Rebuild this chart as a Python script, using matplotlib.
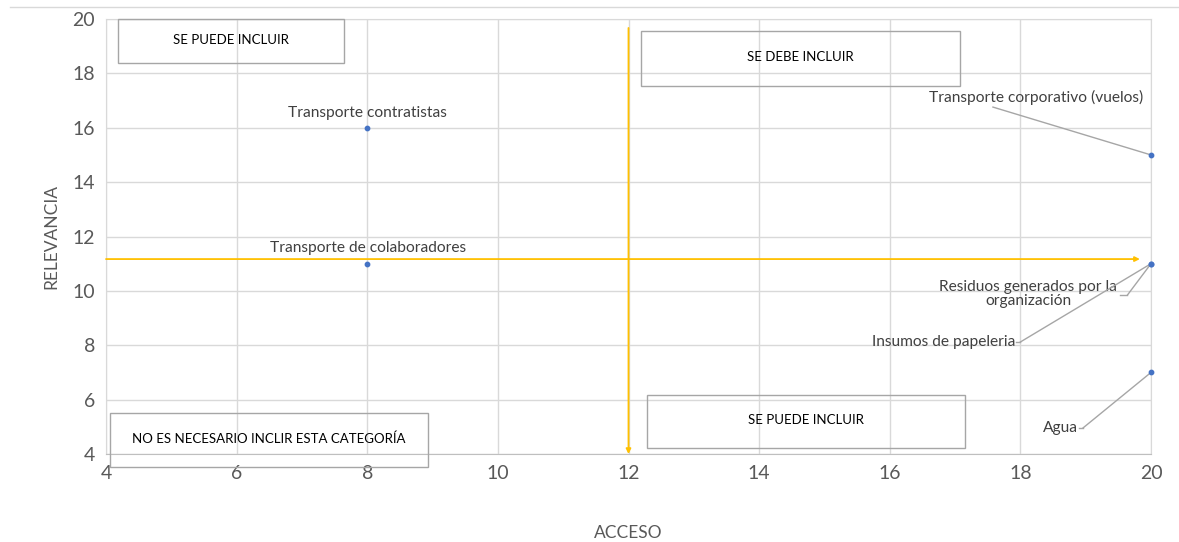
import matplotlib
matplotlib.use("Agg")
import matplotlib.pyplot as plt
from matplotlib.patches import Rectangle
from matplotlib.lines import Line2D

plt.rcParams['font.family'] = ['Lato', 'DejaVu Sans']

# Data
categories = ["Transporte contratistas", "Transporte de colaboradores",
              "Transporte corporativo (vuelos)", "Residuos generados por la\norganización",
              "Insumos de papeleria", "Agua"]
acceso = [8, 8, 20, 20, 20, 20]
relevancia = [16, 11, 15, 11, 11, 7]
x_ticks = [4, 6, 8, 10, 12, 14, 16, 18, 20]
y_ticks = [4, 6, 8, 10, 12, 14, 16, 18, 20]
quadrant_labels = ["SE PUEDE INCLUIR", "SE DEBE INCLUIR", "SE PUEDE INCLUIR",
                   "NO ES NECESARIO INCLIR ESTA CATEGORÍA"]
h_threshold = 11.17
v_threshold = 12

W, H = 1179, 542
fig = plt.figure(figsize=(W / 100, H / 100), dpi=100)
ax = fig.add_axes([106 / W, 1 - 454 / H, (1151 - 106) / W, (454 - 19) / H])

grid_c = "#D9D9D9"
ax.set_xlim(4, 20)
ax.set_ylim(4, 20)
ax.set_xticks(x_ticks)
ax.set_yticks(y_ticks)
ax.grid(True, color=grid_c, linewidth=1)
ax.set_axisbelow(True)
for s in ax.spines.values():
    s.set_color(grid_c)
ax.spines['bottom'].set_color("#BFBFBF")
ax.tick_params(length=0, labelsize=14, colors="#595959", pad=8)

ax.set_xlabel("ACCESO", fontsize=12.5, color="#595959", labelpad=31)
ax.set_ylabel("RELEVANCIA", fontsize=12.5, color="#595959", labelpad=9)

# threshold arrows
ax.annotate("", xy=(19.83, h_threshold), xytext=(4, h_threshold),
            arrowprops=dict(arrowstyle="-|>", color="#FFC000", lw=1.3,
                            mutation_scale=7, shrinkA=0, shrinkB=0))
ax.annotate("", xy=(v_threshold, 4), xytext=(v_threshold, 19.67),
            arrowprops=dict(arrowstyle="-|>", color="#FFC000", lw=1.3,
                            mutation_scale=7, shrinkA=0, shrinkB=0))

# points
ax.scatter(acceso, relevancia, s=10, color="#4472C4", zorder=5, clip_on=False)

lab_c = "#404040"
lead_c = "#A6A6A6"
fs = 11.2
ax.text(8.01, 16.54, categories[0], ha="center", va="center", fontsize=fs, color=lab_c)
ax.text(8.01, 11.58, categories[1], ha="center", va="center", fontsize=fs, color=lab_c)
ax.text(18.24, 17.13, categories[2], ha="center", va="center", fontsize=fs, color=lab_c)
ax.text(18.12, 9.88, categories[3], ha="center", va="center", fontsize=fs, color=lab_c,
        linespacing=1.0)
ax.text(17.92, 8.12, categories[4], ha="right", va="center", fontsize=fs, color=lab_c)
ax.text(18.88, 4.96, categories[5], ha="right", va="center", fontsize=fs, color=lab_c)

def lead(x0, y0, x1, y1):
    ax.add_line(Line2D([x0, x1], [y0, y1], color=lead_c, lw=1, clip_on=False, zorder=4))

lead(17.58, 16.76, 20, 15)
lead(19.64, 9.85, 20, 11)
lead(19.53, 9.85, 19.64, 9.85)
lead(18.0, 8.12, 20, 11)
lead(17.94, 8.12, 18.0, 8.12)
lead(18.96, 4.96, 20, 7)
lead(18.9, 4.96, 18.96, 4.96)

# quadrant boxes (data coords)
boxes = [(4.18, 18.38, 7.64, 20.0), (12.19, 17.53, 17.08, 19.56),
         (12.28, 4.22, 17.15, 6.17), (4.06, 3.52, 8.93, 5.51)]
for (x0, y0, x1, y1), t in zip(boxes, quadrant_labels):
    ax.add_patch(Rectangle((x0, y0), x1 - x0, y1 - y0, facecolor="none",
                           edgecolor="#A6A6A6", lw=1, clip_on=False, zorder=3))
    ax.text((x0 + x1) / 2, (y0 + y1) / 2 + 0.05, t, ha="center", va="center",
            fontsize=9.5, color="#000000", zorder=3)

# top thin separator line
fig.add_artist(Line2D([10 / W, 1], [1 - 7 / H, 1 - 7 / H], color="#D9D9D9", lw=1))

fig.savefig("out.png", dpi=100)
